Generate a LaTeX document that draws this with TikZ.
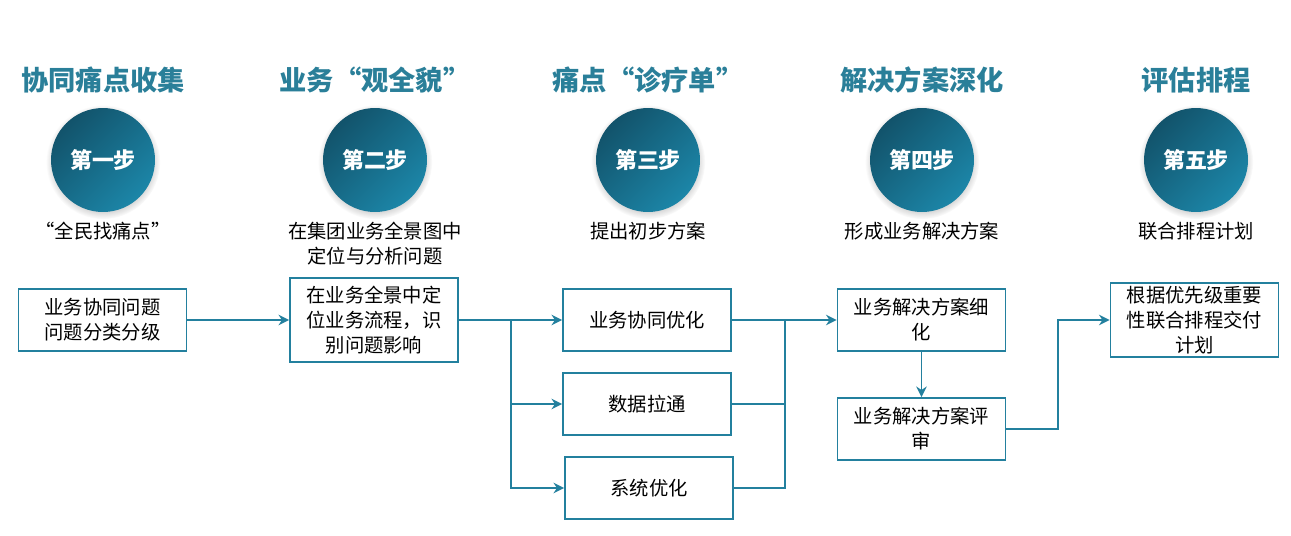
\documentclass[tikz,border=0pt]{standalone}
\usepackage{fontspec}
\setmainfont{Noto Sans CJK SC}
\usepackage{xcolor}
\usepackage{tikz}
\usetikzlibrary{arrows.meta, positioning, shadows, calc}
\definecolor{tealline}{HTML}{23809E}
\definecolor{tealhead}{HTML}{2A7F99}
\definecolor{balldark}{HTML}{12536B}
\definecolor{balllight}{HTML}{1C86A8}
\tikzset{
    baseblock/.style={rectangle, draw=tealline, line width=1.1pt, fill=white, text centered, align=center, font=\fontsize{11}{14.2}\selectfont, inner sep=2pt},
    flowbox/.style={baseblock, minimum height=1.24cm, minimum width=3.36cm},
    headline/.style={font=\fontsize{15.5}{18}\selectfont\bfseries, text=tealhead},
    stepball/.style={circle, minimum size=2.08cm, inner sep=0pt, top color=balldark, bottom color=balllight, shading angle=45, text=white, font=\fontsize{12.5}{15}\selectfont\bfseries, circular drop shadow={shadow xshift=0pt, shadow yshift=-1pt, opacity=0.35}},
    subline/.style={align=center, font=\fontsize{11}{14.2}\selectfont},
    arrow/.style={line width=1.1pt, ->, >={Stealth[length=6pt,width=6pt]}, color=tealline},
    line/.style={line width=1.1pt, color=tealline}
}

\begin{document}
\begin{tikzpicture}[x=0.02cm, y=-0.02cm]
    \useasboundingbox (0,0) rectangle (1291,535);

    % step headers, balls and captions
    \node (head1) [headline] at (103,80) {协同痛点收集};
    \node (head2) [headline] at (375,80) {业务“观全貌”};
    \node (head3) [headline] at (648,80) {痛点“诊疗单”};
    \node (head4) [headline] at (922,80) {解决方案深化};
    \node (head5) [headline] at (1196,80) {评估排程};

    \node (ball1) [stepball] at (103,160) {第一步};
    \node (ball2) [stepball] at (375,160) {第二步};
    \node (ball3) [stepball] at (648,160) {第三步};
    \node (ball4) [stepball] at (922,160) {第四步};
    \node (ball5) [stepball] at (1196,160) {第五步};

    \node (sub1) [subline] at (103,231) {“全民找痛点”};
    \node (sub2) [subline] at (375,243.5) {在集团业务全景图中\\定位与分析问题};
    \node (sub3) [subline] at (648,231) {提出初步方案};
    \node (sub4) [subline] at (922,231) {形成业务解决方案};
    \node (sub5) [subline] at (1196,231) {联合排程计划};

    % flow boxes
    \node (box1) [flowbox] at (102.5,320) {业务协同问题\\问题分类分级};
    \node (box2) [flowbox, minimum height=1.68cm] at (374,320) {在业务全景中定\\位业务流程，识\\别问题影响};
    \node (box3a) [flowbox] at (647,320) {业务协同优化};
    \node (box3b) [flowbox] at (647,404) {数据拉通};
    \node (box3c) [flowbox] at (649,488) {系统优化};
    \node (box4a) [flowbox] at (921.5,320) {业务解决方案细\\化};
    \node (box4b) [flowbox] at (921.5,429) {业务解决方案评\\审};
    \node (box5) [flowbox, minimum height=1.48cm] at (1194.5,320) {根据优先级重要\\性联合排程交付\\计划};

    \coordinate (split) at (511,320);
    \coordinate (merge) at (785,320);

    \draw [arrow] (box1) -- (box2);
    \draw [line] (box2.east) -- (split);
    \draw [arrow] (split) -- (box3a.west);
    \draw [arrow] (split) |- (box3b.west);
    \draw [arrow] (split) |- (box3c.west);
    \draw [line] (box3a.east) -- (merge);
    \draw [line] (box3b.east) -| (merge);
    \draw [line] (box3c.east) -| (merge);
    \draw [arrow] (merge) -- (box4a.west);
    \draw [arrow] (box4a.south) -- (box4b.north);
    \draw [arrow] (box4b.east) -- ++(52,0) |- (box5.west);
\end{tikzpicture}
\end{document}
